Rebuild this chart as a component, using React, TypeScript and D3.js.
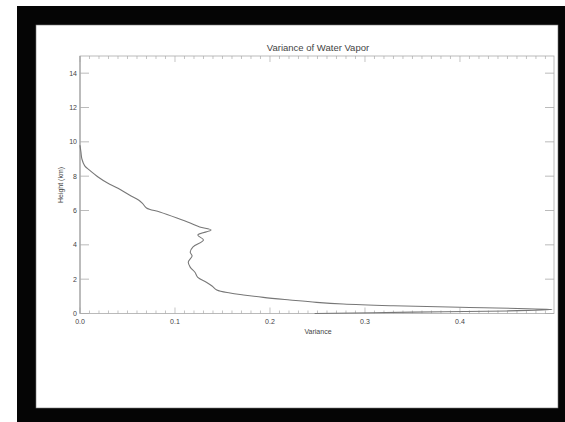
import React from 'react';
import * as d3 from 'd3';

// profile: variance (x) against height in km (y)
const variance = [
  0.000, 0.001, 0.002, 0.005, 0.010, 0.019, 0.029, 0.040, 0.052, 0.062, 0.066, 0.070,
  0.084, 0.102, 0.116, 0.126, 0.138, 0.124, 0.130, 0.119, 0.116, 0.118, 0.114, 0.116,
  0.121, 0.124, 0.133, 0.139, 0.144, 0.158, 0.172, 0.193, 0.221, 0.249, 0.277, 0.330,
  0.400, 0.497, 0.450, 0.350, 0.247
];
const height = [
  9.8, 9.4, 9.0, 8.6, 8.35, 7.95, 7.6, 7.3, 6.9, 6.6, 6.4, 6.15,
  5.91, 5.56, 5.27, 5.04, 4.86, 4.57, 4.28, 3.88, 3.58, 3.35, 3.0, 2.7,
  2.4, 2.1, 1.82, 1.6, 1.37, 1.19, 1.08, 0.94, 0.79, 0.65, 0.55, 0.45,
  0.36, 0.24, 0.15, 0.08, 0.0
];

const xTicks = [0.0, 0.1, 0.2, 0.3, 0.4];
const yTicks = [0, 2, 4, 6, 8, 10, 12, 14];

const W = 565, H = 422;
const left = 80, right = 554, top = 56, bottom = 313.5;
const font = 'Liberation Sans, Arial, sans-serif';

export default function App() {
  const x = d3.scaleLinear().domain([0, 0.499]).range([left, right]);
  const y = d3.scaleLinear().domain([0, 15]).range([bottom, top]);

  const pts: [number, number][] = variance.map((v, i) => [v, height[i]]);
  const line = d3.line<[number, number]>()
    .x(d => x(d[0]))
    .y(d => y(d[1]))
    .curve(d3.curveCatmullRom.alpha(0.5));

  const minor = d3.range(0, 0.5, 0.01);
  const axisCol = '#aaa';

  return (
    <svg width={W} height={H} style={{ position: 'absolute', left: 0, top: 0 }}>
      <rect x={0} y={0} width={W} height={H} fill="#fff" />
      <rect x={17} y={6} width={W - 17} height={H - 6} fill="#050505" />
      <rect x={36} y={25} width={522} height={383} fill="#fff" stroke="#777" strokeWidth={0.6} />

      <text x={318} y={51} textAnchor="middle" fontFamily={font} fontSize={9.5} fill="#444">
        Variance of Water Vapor
      </text>

      {/* frame */}
      <rect x={left} y={top} width={right - left} height={bottom - top}
        fill="none" stroke={axisCol} strokeWidth={0.8} />
      <line x1={left} x2={left} y1={top} y2={bottom} stroke="#999" strokeWidth={1} />

      {/* minor ticks top and bottom */}
      {minor.map((m, i) => {
        const big = i % 10 === 0;
        const len = big ? 6 : 3;
        return (
          <g key={'m' + i}>
            <line x1={x(m)} x2={x(m)} y1={bottom} y2={bottom - len} stroke={axisCol} strokeWidth={0.7} />
            <line x1={x(m)} x2={x(m)} y1={top} y2={top + len} stroke={axisCol} strokeWidth={0.7} />
          </g>
        );
      })}

      {/* y ticks both sides */}
      {yTicks.map(t => (
        <g key={'y' + t}>
          <line x1={left} x2={left + 9} y1={y(t)} y2={y(t)} stroke={axisCol} strokeWidth={0.8} />
          <line x1={right} x2={right - 9} y1={y(t)} y2={y(t)} stroke={axisCol} strokeWidth={0.8} />
          <text x={77} y={y(t)} dy="0.35em" textAnchor="end" fontFamily={font} fontSize={7} fill="#444">
            {t}
          </text>
        </g>
      ))}

      {xTicks.map(t => (
        <text key={'x' + t} x={x(t)} y={324} textAnchor="middle" fontFamily={font} fontSize={7} fill="#444">
          {t.toFixed(1)}
        </text>
      ))}

      <text x={318} y={333.5} textAnchor="middle" fontFamily={font} fontSize={7} fill="#444">
        Variance
      </text>
      <text transform="translate(63,185) rotate(-90)" textAnchor="middle" fontFamily={font}
        fontSize={7} fill="#444">
        Height (km)
      </text>

      <path d={line(pts) || ''} fill="none" stroke="#777" strokeWidth={1.1} />
    </svg>
  );
}
